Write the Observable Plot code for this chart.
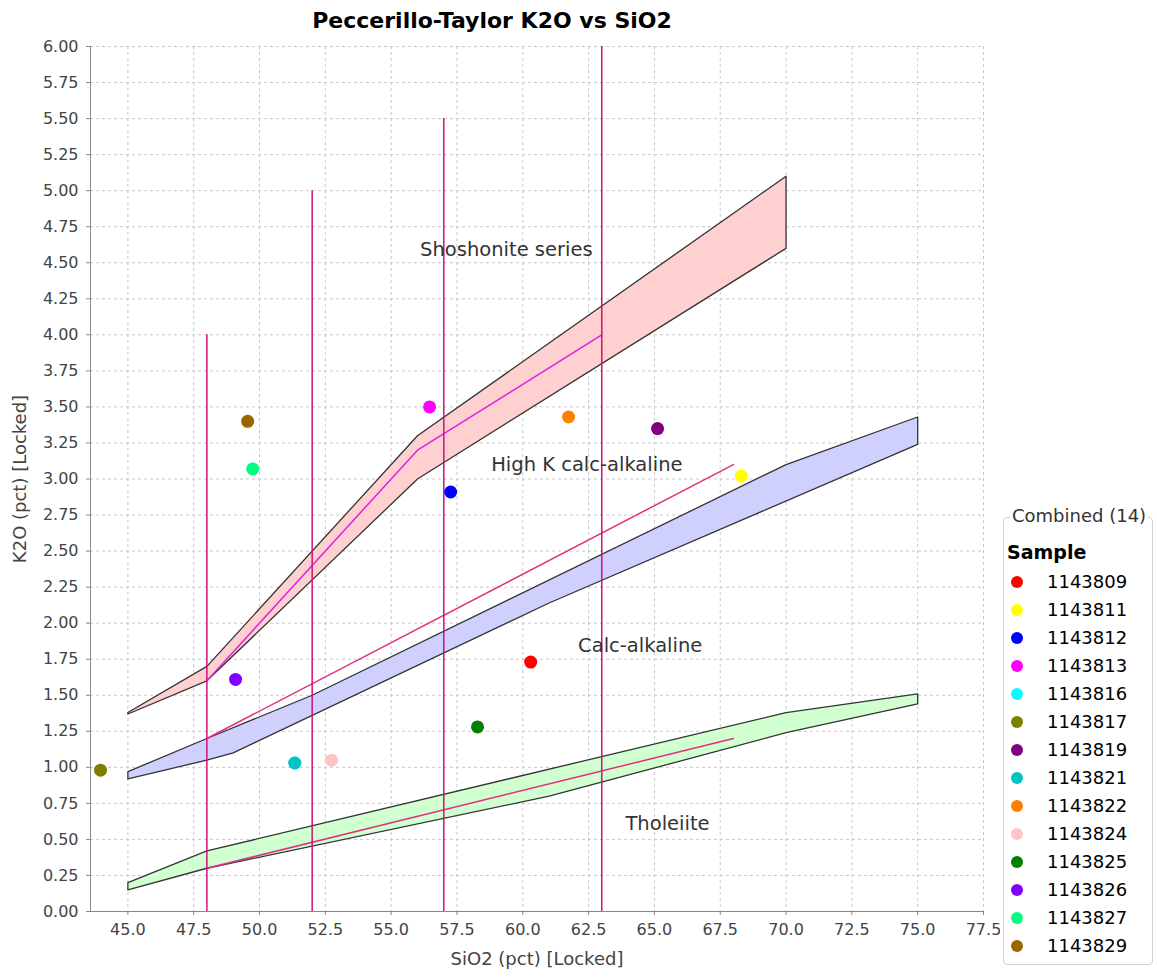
<!DOCTYPE html>
<html><head><meta charset="utf-8">
<script src="https://cdn.jsdelivr.net/npm/d3@7"></script>
<script src="https://cdn.jsdelivr.net/npm/@observablehq/plot@0.6"></script>
<style>
body{margin:0;background:#fff;font-family:"DejaVu Sans",sans-serif;}
#wrap{position:relative;width:1157px;height:977px;overflow:hidden;}
#chart{position:absolute;left:0;top:0;}
#title{position:absolute;left:0;width:984px;top:8px;text-align:center;font-weight:bold;font-size:22px;color:#000;}
#legend{position:absolute;left:1003px;top:517px;width:150px;height:448px;border:1px solid #c9d3dd;border-radius:4px;box-sizing:border-box;}
#ltitle{position:absolute;left:1010px;top:505px;background:#fff;padding:0 2px;font-size:18px;color:#333;white-space:nowrap;}
#lhead{position:absolute;left:1007px;top:541px;font-size:19px;font-weight:bold;color:#000;}
.li{position:absolute;left:1010px;height:24px;}
.ld{position:absolute;left:1px;top:6px;width:12px;height:12px;border-radius:50%;}
.lt{position:absolute;left:37px;top:0;font-size:18px;line-height:24px;color:#000;white-space:nowrap;}
</style></head>
<body>
<div id="wrap">
<div id="chart"></div>
<div id="title">Peccerillo-Taylor K2O vs SiO2</div>
<div id="legend"></div>
<div id="ltitle">Combined (14)</div>
<div id="lhead">Sample</div>
</div>
<script>
// ---- data ----
const samples = ["1143809","1143811","1143812","1143813","1143816","1143817","1143819","1143821","1143822","1143824","1143825","1143826","1143827","1143829"];
const sampleColors = ["#ff0000","#ffff00","#0000ff","#ff00ff","#00ffff","#808000","#800080","#00c4c4","#ff8000","#ffc4c4","#008000","#8000ff","#00ff80","#996600"];
const sio2 = [60.3, 68.3, 57.26, 56.46, 51.34, 43.96, 65.12, 51.34, 61.74, 52.74, 58.28, 49.09, 49.74, 49.55];
const k2o  = [1.73, 3.02, 2.91, 3.50, 1.03, 0.98, 3.35, 1.03, 3.43, 1.05, 1.28, 1.61, 3.07, 3.40];

const shoshBandX = [45, 48, 56, 70, 70, 56, 48, 45, 45];
const shoshBandY = [1.38, 1.70, 3.30, 5.10, 4.60, 3.00, 1.60, 1.37, 1.38];
const highKBandX = [45, 48, 52, 70, 75, 75, 61, 49, 48, 45, 45];
const highKBandY = [0.97, 1.20, 1.50, 3.10, 3.43, 3.24, 2.14, 1.10, 1.05, 0.92, 0.97];
const lowKBandX  = [45, 48, 70, 75, 75, 70, 61, 48, 45, 45];
const lowKBandY  = [0.20, 0.42, 1.38, 1.51, 1.44, 1.24, 0.80, 0.30, 0.15, 0.20];

const shoshLineX = [48, 56, 63];
const shoshLineY = [1.6, 3.2, 4.0];
const highKLineX = [48, 68];
const highKLineY = [1.2, 3.1];
const tholLineX  = [48, 68];
const tholLineY  = [0.3, 1.2];

const vLineX   = [48, 52, 57, 63];
const vLineTop = [4.0, 5.0, 5.5, 6.0];

const zoneLabels = ["Shoshonite series", "High K calc-alkaline", "Calc-alkaline", "Tholeiite"];
const zoneX = [56.1, 58.8, 62.1, 63.9];
const zoneY = [4.59, 3.10, 1.845, 0.61];

const xTicks = d3.range(45, 77.51, 2.5);
const yTicks = d3.range(0, 6.001, 0.25);
const xMin = 43.58, xMax = 77.5;

// ---- build ----
const pts = (xs, ys) => xs.map((x, i) => ({x, y: ys[i]}));
const samplesData = samples.map((s, i) => ({s, c: sampleColors[i], x: sio2[i], y: k2o[i]}));
const vlines = vLineX.map((x, i) => ({x, top: vLineTop[i]}));
const zones = zoneLabels.map((t, i) => ({t, x: zoneX[i], y: zoneY[i]}));

const grid = {stroke: "#c8c8c8", strokeOpacity: 1, strokeDasharray: "3,3"};
const chart = Plot.plot({
  width: 1000, height: 977,
  marginLeft: 90, marginRight: 17, marginTop: 46, marginBottom: 66,
  x: {domain: [xMin, xMax]},
  y: {domain: [0, 6]},
  style: {fontFamily: "DejaVu Sans", background: "transparent"},
  marks: [
    Plot.gridX(xTicks, grid),
    Plot.gridY(yTicks, grid),
    Plot.line(pts(shoshBandX, shoshBandY), {x: "x", y: "y", fill: "#ffd0d0", stroke: "#333", strokeWidth: 1.3}),
    Plot.line(pts(highKBandX, highKBandY), {x: "x", y: "y", fill: "#d0d0ff", stroke: "#333", strokeWidth: 1.3}),
    Plot.line(pts(lowKBandX, lowKBandY), {x: "x", y: "y", fill: "#d0ffd0", stroke: "#333", strokeWidth: 1.3}),
    Plot.line(pts(shoshLineX, shoshLineY), {x: "x", y: "y", stroke: "#e020e0", strokeWidth: 1.5}),
    Plot.line(pts(highKLineX, highKLineY), {x: "x", y: "y", stroke: "#e03080", strokeWidth: 1.5}),
    Plot.line(pts(tholLineX, tholLineY), {x: "x", y: "y", stroke: "#e03080", strokeWidth: 1.5}),
    Plot.ruleX(vlines, {x: "x", y1: 0, y2: "top", stroke: "#d0107a", strokeWidth: 1.5}),
    Plot.text(zones, {x: "x", y: "y", text: "t", textAnchor: "start", lineAnchor: "middle", fontSize: 19.5, fill: "#333"}),
    Plot.dot(samplesData, {x: "x", y: "y", r: 6.5, fill: "c", stroke: null}),
    Plot.ruleX([xMin], {stroke: "#888"}),
    Plot.ruleY([0], {stroke: "#888"}),
    Plot.axisX(xTicks, {tickFormat: d => d.toFixed(1), tickSize: 4, tickPadding: 8, fontSize: 16, color: "#444", stroke: "#888", label: null}),
    Plot.axisY(yTicks, {tickFormat: d => d.toFixed(2), tickSize: 4, tickPadding: 8, fontSize: 16, color: "#444", stroke: "#888", label: null}),
    Plot.text(["SiO2 (pct) [Locked]"], {frameAnchor: "bottom", dy: 48, textAnchor: "middle", lineAnchor: "middle", fontSize: 18, fill: "#444"}),
    Plot.text(["K2O (pct) [Locked]"], {frameAnchor: "left", dx: -70, rotate: -90, textAnchor: "middle", lineAnchor: "middle", fontSize: 18, fill: "#444"})
  ]
});
document.getElementById("chart").appendChild(chart);

// ---- legend ----
const wrap = document.getElementById("wrap");
samples.forEach((s, i) => {
  const el = document.createElement("div");
  el.className = "li";
  el.style.top = (570 + 28 * i) + "px";
  el.innerHTML = `<div class="ld" style="background:${sampleColors[i]}"></div><div class="lt">${s}</div>`;
  wrap.appendChild(el);
});
</script>
</body></html>
